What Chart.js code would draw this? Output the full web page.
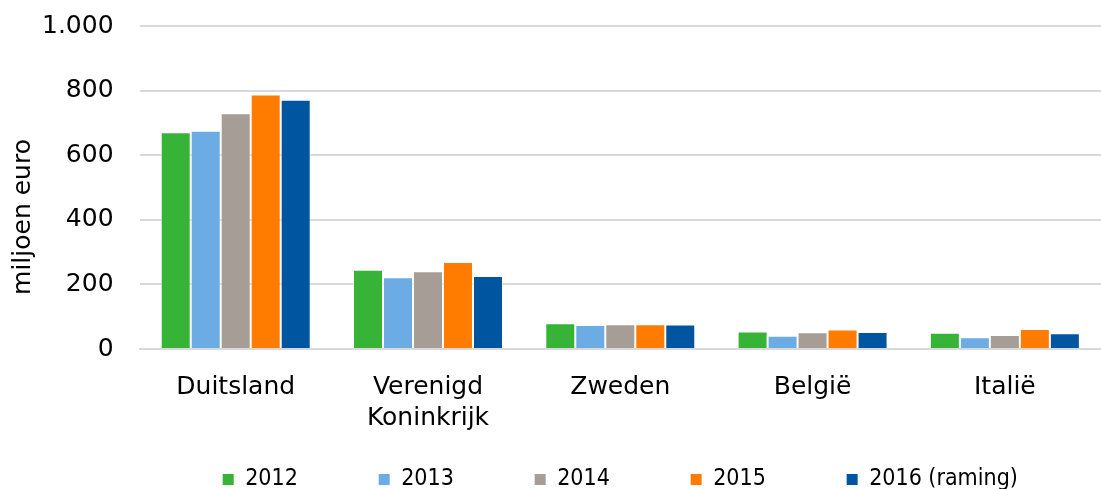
<!DOCTYPE html>
<html>
<head>
<meta charset="utf-8">
<script src="https://cdn.jsdelivr.net/npm/chart.js@4"></script>
<style>
  html, body { margin: 0; padding: 0; background: #fff; }
  #wrap { width: 1101px; height: 489px; }
</style>
</head>
<body>
<div id="wrap"><canvas id="bar-graph"></canvas></div>
<script>
let landen = ['Duitsland', ['Verenigd', 'Koninkrijk'], 'Zweden', 'België', 'Italië'];
let jaren = ['2012', '2013', '2014', '2015', '2016 (raming)'];
let waarden_2012 = [671, 245, 80, 54, 50];
let waarden_2013 = [676, 222, 74, 41, 36];
let waarden_2014 = [730, 241, 77, 52, 43];
let waarden_2015 = [788, 269, 77, 60, 62];
let waarden_2016 = [772, 226, 76, 53, 49];
let kleuren = ['rgb(55,179,55)', 'rgb(108,172,228)', 'rgb(165,157,150)', 'rgb(255,124,0)', 'rgb(0,85,160)'];

let reeksen = [waarden_2012, waarden_2013, waarden_2014, waarden_2015, waarden_2016];

// y-as titel zelf tekenen, iets lager dan het midden (zoals in Excel)
let yTitel = {
  id: 'yTitel',
  afterDraw(chart) {
    let ctx = chart.ctx;
    ctx.save();
    ctx.translate(23, chart.chartArea.bottom - 132);
    ctx.rotate(-Math.PI / 2);
    ctx.font = '25px "DejaVu Sans"';
    ctx.fillStyle = '#000';
    ctx.textAlign = 'center';
    ctx.textBaseline = 'middle';
    ctx.fillText('miljoen euro', 0, 0);
    ctx.restore();
  }
};

// legenda centreren onder het plotgebied i.p.v. onder het hele canvas
let legendaOnderPlot = {
  id: 'legendaOnderPlot',
  beforeDraw(chart) {
    if (!chart.legend) return;
    chart.legend.left = chart.chartArea.left;
    chart.legend.right = chart.chartArea.right;
  }
};

// ruimte tussen legenda-items (spaties achter de tekst, niet na het laatste item)
let tussenruimte = '\u00a0'.repeat(12);

function bar_graph(){
  let ctx = document.getElementById('bar-graph').getContext('2d');
  let chart = new Chart(ctx, {
    type: 'bar',
    data: {
      labels: landen,
      datasets: jaren.map((jaar, i) => ({
        label: jaar,
        data: reeksen[i],
        backgroundColor: kleuren[i],
        borderColor: 'rgba(255,255,255,0.5)',
        borderWidth: 1,
        categoryPercentage: 0.78,
        barPercentage: 1
      }))
    },
    options: {
      responsive: true,
      maintainAspectRatio: false,
      animation: false,
      layout: {
        padding: { left: 16, right: 0, top: 0, bottom: -12 }
      },
      scales: {
        x: {
          grid: { display: false },
          border: { color: '#d9d9d9', width: 2 },
          ticks: {
            color: '#000',
            font: { family: 'DejaVu Sans', size: 25, lineHeight: 1.25 },
            padding: 15,
            maxRotation: 0
          },
          afterFit: s => { s.height = 117; }
        },
        y: {
          min: 0,
          max: 1000,
          grid: { color: '#d9d9d9', lineWidth: 2, drawTicks: false },
          border: { display: false },
          ticks: {
            stepSize: 200,
            color: '#000',
            padding: 26,
            font: { family: 'DejaVu Sans', size: 25 },
            callback: v => v.toLocaleString('nl-NL')
          },
          // bovenkant plotgebied niet laten zakken door de tick-padding
          afterFit: s => { s.paddingTop = 26; }
        }
      },
      plugins: {
        legend: {
          position: 'bottom',
          labels: {
            boxWidth: 11,
            boxHeight: 11,
            padding: 2,
            color: '#000',
            font: { family: 'DejaVu Sans Condensed', size: 23 },
            generateLabels: c => {
              let items = Chart.defaults.plugins.legend.labels.generateLabels(c);
              items.forEach((it, i) => {
                it.lineWidth = 0;
                if (i < items.length - 1) it.text = it.text + tussenruimte;
              });
              return items;
            }
          }
        },
        tooltip: { enabled: false }
      }
    },
    plugins: [yTitel, legendaOnderPlot]
  });
}

bar_graph();
</script>
</body>
</html>
